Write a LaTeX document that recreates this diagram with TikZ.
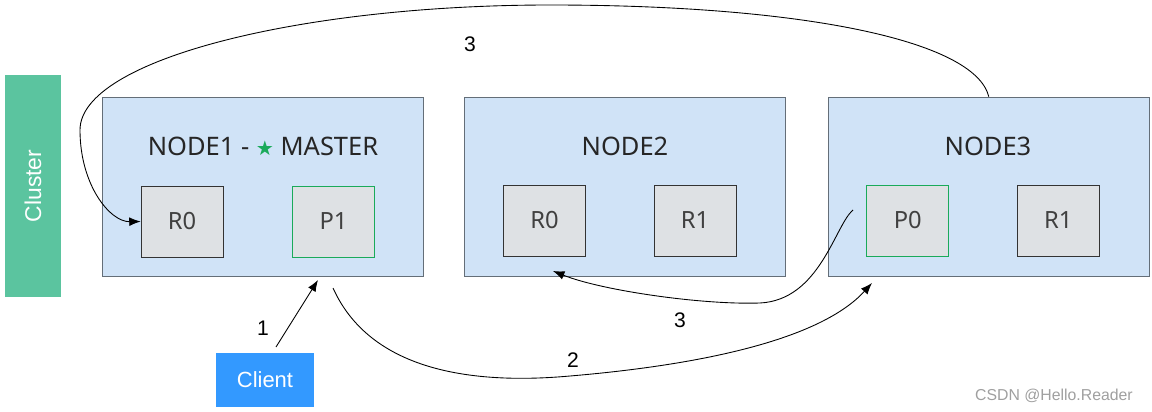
\documentclass[tikz,border=0pt]{standalone}
\usepackage{fontspec}
\setmainfont{Noto Sans}
\newfontfamily\arialfont{Liberation Sans}
\newfontfamily\symfont{DejaVu Sans}
\usetikzlibrary{positioning, arrows.meta}
\definecolor{clustergreen}{RGB}{91,196,159}
\definecolor{nodeblue}{RGB}{208,227,247}
\definecolor{nodeedge}{RGB}{100,110,120}
\definecolor{shardgray}{RGB}{222,225,228}
\definecolor{primgreen}{RGB}{26,170,90}
\definecolor{clientblue}{RGB}{51,153,255}
\tikzstyle{esnode}=[draw=nodeedge, fill=nodeblue, minimum width=6.42cm, minimum height=3.58cm, inner sep=0pt]
\tikzstyle{replica}=[draw=black!80, fill=shardgray, minimum width=1.64cm, minimum height=1.42cm, inner sep=0pt, text=black!75, font=\fontsize{13.5pt}{15pt}\selectfont]
\tikzstyle{primary}=[replica, draw=primgreen]
\tikzstyle{title}=[text=black!85, font=\fontsize{14.5pt}{16pt}\selectfont]
\tikzstyle{num}=[font=\arialfont\fontsize{12pt}{14pt}\selectfont]
\tikzstyle{conn}=[->, line width=0.5pt]

\begin{document}
\begin{tikzpicture}[x=0.02cm, y=-0.02cm, > = {Latex[length=6.5pt, width=5pt]}]
                    \useasboundingbox (0,0) rectangle (1152,412);
                    \node [fill=clustergreen, rotate=90, minimum width=4.44cm, minimum height=1.12cm, text=white, font=\arialfont\fontsize{13pt}{15pt}\selectfont] (cluster) at (33,186) {Cluster};
                    \node [esnode] (n1) at (262.5,186.5) {};
                    \node [esnode, right=0.82cm of n1] (n2) {};
                    \node [esnode, right=0.84cm of n2] (n3) {};
                    \node [title] (t1) at (263,146) {NODE1 - {\symfont\color{primgreen}\fontsize{11.5pt}{12pt}\selectfont ★} MASTER};
                    \node [title] (t2) at (625,146) {NODE2};
                    \node [title] (t3) at (988,146) {NODE3};
                    \node [replica, xshift=-1.61cm, yshift=-0.7cm] (r0a) at (n1) {R0};
                    \node [primary, xshift=1.42cm, yshift=-0.7cm] (p1a) at (n1) {P1};
                    \node [replica, xshift=-1.61cm, yshift=-0.68cm] (r0b) at (n2) {R0};
                    \node [replica, xshift=1.4cm, yshift=-0.68cm] (r1b) at (n2) {R1};
                    \node [primary, xshift=-1.62cm, yshift=-0.68cm] (p0c) at (n3) {P0};
                    \node [replica, xshift=1.39cm, yshift=-0.68cm] (r1c) at (n3) {R1};
                    \node [fill=clientblue, minimum width=1.96cm, minimum height=1.08cm, text=white, font=\arialfont\fontsize{12.5pt}{14pt}\selectfont] (client) at (265,380) {Client};
                    \coordinate (c1) at (276,347);
                    \coordinate (p1in) at (318,280);
                    \coordinate (w1) at (333,288);
                    \coordinate (p0in) at (872,283);
                    \coordinate (w3) at (853,210);
                    \coordinate (r0in) at (553,271);
                    \draw [conn] (c1) -- (p1in);
                    \draw [conn] (w1) .. controls (370,370) and (470,385) .. (570,376) .. controls (700,365) and (820,340) .. (p0in);
                    \draw [conn] (w3) .. controls (835,225) and (820,300) .. (760,303) .. controls (700,305) and (600,290) .. (r0in);
                    \draw [conn] (n3.north) .. controls (975,40) and (800,5) .. (550,5) .. controls (300,5) and (80,60) .. (80,130) .. controls (80,185) and (110,222) .. (r0a.west);
                    \node [num] (l1) at (263,328) {1};
                    \node [num] (l2) at (573,360) {2};
                    \node [num] (l3a) at (680,320) {3};
                    \node [num] (l3b) at (470,44) {3};
                    \node [text=gray!75, font=\arialfont\fontsize{9pt}{11pt}\selectfont] (mark) at (1054,396) {CSDN @Hello.Reader};
                \end{tikzpicture}
\end{document}
